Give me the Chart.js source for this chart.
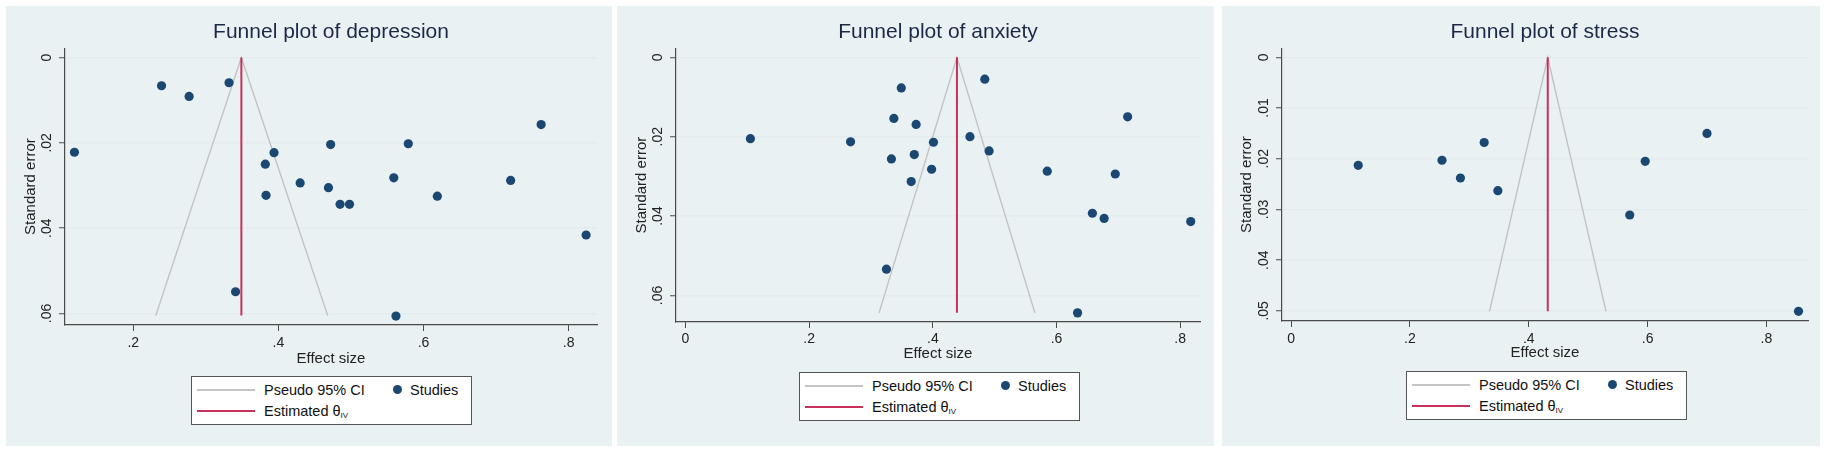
<!DOCTYPE html>
<html>
<head>
<meta charset="utf-8">
<script src="https://cdn.jsdelivr.net/npm/chart.js@4.4.1/dist/chart.umd.min.js"></script>
<style>
  body { margin: 0; background: #fff; width: 1825px; height: 450px; position: relative; overflow: hidden;
         font-family: 'Liberation Sans', Arial, Helvetica, sans-serif; }
  .panel { position: absolute; top: 6px; height: 440px; background: #eaf1f3; }
  .panel canvas { position: absolute; left: 0; top: 0; }
  .legend { position: absolute; width: 281px; height: 49px; background: #fff; border: 1.5px solid #555; box-sizing: border-box; }
  .legend .ln { position: absolute; left: 5px; width: 58px; height: 2px; }
  .legend .tx { position: absolute; font-size: 14.5px; line-height: 16px; color: #111; white-space: nowrap; }
  .legend .dot { position: absolute; width: 9px; height: 9px; border-radius: 50%; background: #1a4873; }
  .legend sub { font-size: 8px; vertical-align: -2px; }
</style>
</head>
<body>

<div class="panel" id="p1" style="left:6px;width:606px;">
  <canvas id="c1" width="606" height="362"></canvas>
</div>
<div class="panel" id="p2" style="left:617px;width:597px;">
  <canvas id="c2" width="597" height="357"></canvas>
</div>
<div class="panel" id="p3" style="left:1222px;width:598px;">
  <canvas id="c3" width="598" height="356"></canvas>
</div>

<script>
// ---- depression ----
const depEffect = [0.119, 0.239, 0.277, 0.332, 0.341, 0.382, 0.394, 0.383, 0.430, 0.472,
                   0.469, 0.485, 0.498, 0.559, 0.579, 0.562, 0.619, 0.720, 0.762, 0.824];
const depSE     = [0.0222, 0.0066, 0.0091, 0.0059, 0.0549, 0.0250, 0.0223, 0.0323, 0.0294, 0.0204,
                   0.0305, 0.0344, 0.0344, 0.0282, 0.0202, 0.0606, 0.0325, 0.0288, 0.0157, 0.0416];
const depFunnelX = [0.231, 0.349, 0.468];
const depFunnelY = [0.0605, 0, 0.0605];
const depThetaX  = [0.349, 0.349];
const depThetaY  = [0, 0.0605];
const depXRange  = [0.106, 0.839];
const depYRange  = [-0.0022, 0.0627];
const depXTicks  = [0.2, 0.4, 0.6, 0.8];
const depXLabels = ['.2', '.4', '.6', '.8'];
const depYTicks  = [0, 0.02, 0.04, 0.06];
const depYLabels = ['0', '.02', '.04', '.06'];

// ---- anxiety ----
const anxEffect = [0.105, 0.267, 0.333, 0.337, 0.349, 0.325, 0.365, 0.370, 0.373, 0.401, 0.398,
                   0.460, 0.484, 0.491, 0.585, 0.695, 0.715, 0.658, 0.677, 0.817, 0.634];
const anxSE     = [0.0205, 0.0213, 0.0256, 0.0154, 0.0077, 0.0534, 0.0313, 0.0245, 0.0169, 0.0214, 0.0282,
                   0.0200, 0.0055, 0.0236, 0.0287, 0.0294, 0.0150, 0.0393, 0.0406, 0.0414, 0.0644];
const anxFunnelX = [0.313, 0.439, 0.565];
const anxFunnelY = [0.0644, 0, 0.0644];
const anxThetaX  = [0.439, 0.439];
const anxThetaY  = [0, 0.0644];
const anxXRange  = [-0.0153, 0.832];
const anxYRange  = [-0.0023, 0.0667];
const anxXTicks  = [0, 0.2, 0.4, 0.6, 0.8];
const anxXLabels = ['0', '.2', '.4', '.6', '.8'];
const anxYTicks  = [0, 0.02, 0.04, 0.06];
const anxYLabels = ['0', '.02', '.04', '.06'];

// ---- stress ----
const strEffect = [0.113, 0.254, 0.285, 0.325, 0.348, 0.570, 0.596, 0.700, 0.854];
const strSE     = [0.0213, 0.0203, 0.0238, 0.0168, 0.0263, 0.0311, 0.0205, 0.0150, 0.0501];
const strFunnelX = [0.334, 0.432, 0.530];
const strFunnelY = [0.0501, 0, 0.0501];
const strThetaX  = [0.432, 0.432];
const strThetaY  = [0, 0.0501];
const strXRange  = [-0.0153, 0.870];
const strYRange  = [-0.0018, 0.052];
const strXTicks  = [0, 0.2, 0.4, 0.6, 0.8];
const strXLabels = ['0', '.2', '.4', '.6', '.8'];
const strYTicks  = [0, 0.01, 0.02, 0.03, 0.04, 0.05];
const strYLabels = ['0', '.01', '.02', '.03', '.04', '.05'];

const FONT = "'Liberation Sans', Arial, Helvetica, sans-serif";
Chart.defaults.font.family = FONT;
Chart.defaults.color = '#1e1e1e';

const AXIS = '#4a4a4a';
const GRID = '#e3ecef';

function pts(xs, ys) {
    return xs.map((x, i) => ({ x: x, y: ys[i] }));
}

function addLegend(panel, left, top) {
    const box = document.createElement('div');
    box.className = 'legend';
    box.style.left = left + 'px';
    box.style.top = top + 'px';
    box.innerHTML = `
        <div class="ln" style="top:12px;background:#c4c4c4"></div>
        <span class="tx" style="left:72px;top:5px">Pseudo 95% CI</span>
        <div class="dot" style="left:201px;top:8px"></div>
        <span class="tx" style="left:218px;top:5px">Studies</span>
        <div class="ln" style="top:33px;background:#c8325a"></div>
        <span class="tx" style="left:72px;top:26px">Estimated θ<sub>IV</sub></span>`;
    panel.appendChild(box);
}

function buildPanel(p) {
    const canvas = document.getElementById(p.canvas);
    new Chart(canvas, {
        type: 'scatter',
        data: {
            datasets: [
                {
                    label: 'Pseudo 95% CI',
                    data: pts(p.funnelX, p.funnelY),
                    showLine: true,
                    borderColor: '#c2c2c2',
                    borderWidth: 1.4,
                    pointRadius: 0,
                    order: 3
                },
                {
                    label: 'Estimated θIV',
                    data: pts(p.thetaX, p.thetaY),
                    showLine: true,
                    borderColor: '#c8325a',
                    borderWidth: 2,
                    pointRadius: 0,
                    order: 2
                },
                {
                    label: 'Studies',
                    data: pts(p.es, p.se),
                    backgroundColor: '#1a4873',
                    borderColor: '#1a4873',
                    borderWidth: 0,
                    pointRadius: 4.6,
                    pointHoverRadius: 4.6,
                    order: 1
                }
            ]
        },
        options: {
            responsive: false,
            animation: false,
            layout: { padding: { left: 0, right: p.padRight, top: 0, bottom: 0 } },
            plugins: {
                legend: { display: false },
                tooltip: { enabled: false },
                title: {
                    display: true,
                    text: p.title,
                    color: '#1c2848',
                    font: { size: 21, weight: 'normal' },
                    padding: { top: 14, bottom: 3 },
                    fullSize: false
                }
            },
            scales: {
                x: {
                    type: 'linear',
                    min: p.xRange[0],
                    max: p.xRange[1],
                    afterBuildTicks: s => { s.ticks = p.xTicks.map(v => ({ value: v })); },
                    afterFit: s => { s.height = p.xH; },
                    ticks: {
                        autoSkip: false,
                        maxRotation: 0,
                        padding: p.tickPad,
                        color: '#222',
                        font: { size: 14 },
                        callback: (v, i) => p.xLabels[i]
                    },
                    grid: { drawOnChartArea: false, tickLength: 6, tickColor: AXIS, tickWidth: 1 },
                    border: { color: AXIS, width: 1.2 },
                    title: { display: true, text: 'Effect size', color: '#222', font: { size: 15 }, padding: { top: 0, bottom: 0 } }
                },
                y: {
                    type: 'linear',
                    reverse: true,
                    min: p.yRange[0],
                    max: p.yRange[1],
                    afterBuildTicks: s => { s.ticks = p.yTicks.map(v => ({ value: v })); },
                    afterFit: s => { s.width = p.yW; },
                    ticks: {
                        autoSkip: false,
                        minRotation: 90,
                        maxRotation: 90,
                        crossAlign: 'center',
                        padding: 2,
                        color: '#222',
                        font: { size: 14 },
                        callback: (v, i) => p.yLabels[i]
                    },
                    grid: { color: GRID, lineWidth: 1.5, tickLength: 6, tickColor: AXIS, tickWidth: 1 },
                    border: { color: AXIS, width: 1.2 },
                    title: { display: true, text: 'Standard error', color: '#222', font: { size: 15 }, padding: { top: 16, bottom: 0 } }
                }
            }
        }
    });
    addLegend(document.getElementById(p.panel), p.legendLeft, p.legendTop);
}

buildPanel({
    panel: 'p1', canvas: 'c1', title: 'Funnel plot of depression',
    es: depEffect, se: depSE, funnelX: depFunnelX, funnelY: depFunnelY, thetaX: depThetaX, thetaY: depThetaY,
    xRange: depXRange, yRange: depYRange, xTicks: depXTicks, xLabels: depXLabels, yTicks: depYTicks, yLabels: depYLabels,
    yW: 59, padRight: 15, xH: 43, tickPad: 4, legendLeft: 185, legendTop: 370
});
buildPanel({
    panel: 'p2', canvas: 'c2', title: 'Funnel plot of anxiety',
    es: anxEffect, se: anxSE, funnelX: anxFunnelX, funnelY: anxFunnelY, thetaX: anxThetaX, thetaY: anxThetaY,
    xRange: anxXRange, yRange: anxYRange, xTicks: anxXTicks, xLabels: anxXLabels, yTicks: anxYTicks, yLabels: anxYLabels,
    yW: 59, padRight: 14, xH: 41, tickPad: 3, legendLeft: 182, legendTop: 366
});
buildPanel({
    panel: 'p3', canvas: 'c3', title: 'Funnel plot of stress',
    es: strEffect, se: strSE, funnelX: strFunnelX, funnelY: strFunnelY, thetaX: strThetaX, thetaY: strThetaY,
    xRange: strXRange, yRange: strYRange, xTicks: strXTicks, xLabels: strXLabels, yTicks: strYTicks, yLabels: strYLabels,
    yW: 60, padRight: 12, xH: 41, tickPad: 4, legendLeft: 184, legendTop: 365
});
</script>
</body>
</html>
